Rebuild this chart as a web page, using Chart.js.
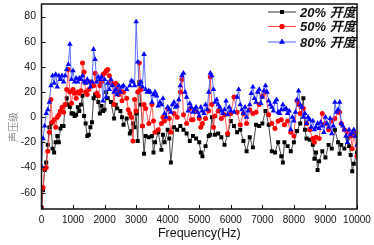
<!DOCTYPE html>
<html>
<head>
<meta charset="utf-8">
<script src="https://cdn.jsdelivr.net/npm/chart.js@4.4.1/dist/chart.umd.min.js"></script>
<style>
  html, body { margin: 0; padding: 0; background: #fff; }
  #wrap { width: 374px; height: 245px; position: relative; }
</style>
</head>
<body>
<div id="wrap"><canvas id="spl"></canvas></div>
<script>
// ── data: [frequency Hz, level] ──
const open20 = [[0,-72],[50,-58],[100,-42],[150,-36],[200,-22],[250,-8],[300,-5],[350,-25],[400,-28],[450,-20],
  [500,-15],[550,-20],[600,-9],[650,-7],[700,-7],[750,10],[800,15],[850,10],[900,8],[950,3],[1000,3],[1050,1],
  [1100,2],[1150,8],[1200,5],[1250,10],[1300,17],[1350,1],[1400,-5],[1450,-15],[1500,-14],[1550,-8],[1600,-4],
  [1650,15],[1700,18],[1750,17],[1800,12],[1850,3],[1900,9],[1950,5],[2000,6],[2050,20],[2100,15],[2200,12],
  [2300,-1],[2350,10],[2400,7],[2500,5],[2550,0],[2600,-6],[2700,-1],[2800,-13],[2850,-11],[2900,-5],[2950,-8],
  [3000,3],[3050,-19],[3100,28],[3150,10],[3200,-7],[3250,-29],[3300,-15],[3400,-16],[3500,-15],[3550,-28],
  [3600,-20],[3700,-12],[3800,-26],[3850,-14],[3900,-20],[4000,-10],[4050,-17],[4100,-36],[4200,-8],[4300,-10],
  [4400,-7],[4500,-10],[4600,-13],[4700,-19],[4800,-15],[4900,-17],[5000,-20],[5050,-28],[5100,-31],[5200,-23],
  [5300,-15],[5350,-14],[5400,0],[5500,-14],[5600,-13],[5700,-16],[5800,-22],[5900,-14],[6000,-3],[6100,-7],
  [6200,-12],[6300,-10],[6400,-19],[6500,-27],[6600,-16],[6700,-24],[6800,-6],[6900,-7],[7000,-5],[7100,5],
  [7200,-6],[7300,-27],[7400,-28],[7500,-20],[7600,-31],[7650,-36],[7700,-20],[7800,-23],[7900,-27],[8000,-20],
  [8100,-11],[8200,-5],[8300,15],[8350,-10],[8400,-17],[8500,-18],[8600,-22],[8650,-33],[8700,-28],[8750,-42],
  [8800,-35],[8900,-27],[9000,-32],[9100,-22],[9200,-25],[9300,-10],[9400,-20],[9450,-29],[9500,-22],[9600,-25],
  [9700,-17],[9750,-23],[9800,-30],[9850,-43],[9900,-37],[10000,-28]];

const open50 = [[0,-72],[50,-56],[100,-41],[150,-40],[200,-27],[250,-12],[300,14],[350,-4],[400,-2],[450,-8],
  [500,0],[550,2],[600,5],[650,8],[700,4],[750,10],[800,22],[850,38],[900,20],[950,11],[1000,22],[1050,19],
  [1100,15],[1150,20],[1200,19],[1250,21],[1300,43],[1350,36],[1400,20],[1450,18],[1500,22],[1550,28],[1600,27],
  [1650,25],[1700,35],[1750,19],[1800,17],[1850,25],[1900,28],[1950,34],[2000,35],[2050,37],[2100,38],[2150,33],
  [2200,28],[2250,26],[2300,10],[2350,27],[2400,22],[2450,18],[2500,21],[2550,13],[2600,20],[2700,15],[2750,6],
  [2800,3],[2850,0],[2900,-19],[2950,14],[3000,5],[3050,20],[3100,43],[3150,22],[3200,-7],[3250,10],[3300,7],
  [3400,-5],[3500,10],[3550,-3],[3600,-12],[3700,-10],[3800,-5],[3850,0],[3900,-3],[4000,7],[4050,-1],[4100,-12],
  [4200,3],[4300,0],[4400,20],[4450,30],[4500,2],[4600,-5],[4700,7],[4750,-2],[4800,-2],[4900,5],[5000,-1],
  [5050,-8],[5100,-5],[5200,-1],[5300,5],[5350,32],[5400,10],[5450,-8],[5500,1],[5600,5],[5700,-1],[5800,2],
  [5900,-13],[6000,3],[6100,16],[6200,4],[6300,-6],[6400,3],[6500,-5],[6600,6],[6700,3],[6800,4],[6900,10],
  [7000,17],[7100,20],[7200,2],[7300,-5],[7400,-9],[7500,-3],[7600,-2],[7700,-6],[7800,-3],[7900,-12],[8000,-15],
  [8100,13],[8150,10],[8200,3],[8300,7],[8400,-5],[8500,-10],[8600,-17],[8650,-20],[8700,-16],[8800,-17],[8900,3],
  [9000,-5],[9100,-10],[9200,-3],[9300,-1],[9400,4],[9450,4],[9500,-5],[9600,-10],[9700,-12],[9800,-15],
  [9850,-25],[9900,-12],[10000,-31]];

const open80 = [[0,-39],[50,-17],[100,-7],[150,3],[200,6],[250,12],[300,25],[350,33],[400,27],[450,34],[500,24],
  [550,33],[600,30],[650,33],[700,28],[750,33],[800,38],[850,42],[900,58],[950,30],[1000,37],[1050,28],[1100,31],
  [1150,28],[1200,31],[1250,30],[1300,33],[1350,28],[1400,27],[1450,30],[1500,28],[1550,24],[1600,28],[1650,54],
  [1700,46],[1750,28],[1800,32],[1850,30],[1900,32],[1950,13],[2000,30],[2050,16],[2100,27],[2150,22],[2200,30],
  [2250,25],[2300,20],[2350,22],[2400,18],[2450,25],[2500,20],[2550,24],[2600,25],[2700,22],[2800,25],[2850,29],
  [2900,28],[2950,25],[3000,76],[3050,44],[3100,26],[3150,28],[3200,24],[3250,50],[3300,22],[3350,20],[3400,21],
  [3450,20],[3500,12],[3550,18],[3600,20],[3650,17],[3700,9],[3750,12],[3800,10],[3850,15],[3900,3],[3950,0],
  [4000,8],[4050,6],[4100,4],[4150,10],[4200,12],[4250,8],[4300,9],[4350,14],[4400,25],[4450,33],[4500,35],
  [4550,20],[4600,16],[4650,5],[4700,11],[4750,8],[4800,4],[4850,6],[4900,8],[4950,4],[5000,1],[5050,8],[5100,5],
  [5150,3],[5200,10],[5250,6],[5300,20],[5350,35],[5400,33],[5450,22],[5500,12],[5550,14],[5600,10],[5650,8],
  [5700,5],[5750,3],[5800,6],[5850,13],[5900,2],[5950,8],[6000,5],[6100,4],[6200,16],[6250,22],[6300,10],
  [6350,6],[6400,3],[6450,8],[6500,0],[6550,5],[6600,10],[6650,19],[6700,24],[6750,15],[6800,12],[6850,20],
  [6900,22],[6950,11],[7000,16],[7050,21],[7100,25],[7150,20],[7200,13],[7250,10],[7300,8],[7350,5],[7400,12],
  [7450,14],[7500,4],[7550,3],[7600,6],[7650,10],[7700,6],[7750,7],[7800,3],[7850,5],[7900,-10],[7950,0],
  [8000,-3],[8050,4],[8100,14],[8150,21],[8200,10],[8250,8],[8300,0],[8350,3],[8400,-5],[8450,0],[8500,-2],
  [8550,-8],[8600,-3],[8650,-10],[8700,-8],[8750,-5],[8800,-9],[8850,-4],[8900,-7],[8950,-12],[9000,0],
  [9050,-5],[9100,-8],[9150,-1],[9200,-13],[9250,-7],[9300,12],[9350,4],[9400,6],[9450,12],[9500,-5],[9550,-7],
  [9600,-10],[9650,-15],[9700,-20],[9750,-10],[9800,-14],[9850,-12],[9900,-10],[9950,-15],[10000,-22]];

const seriesNames = ['20% 开度', '50% 开度', '80% 开度'];
const yTicks = [-60, -40, -20, 0, 20, 40, 60, 80];
const xTicks = [0, 1000, 2000, 3000, 4000, 5000, 6000, 7000, 8000, 9000, 10000];

const toXY = arr => arr.map(p => ({ x: p[0], y: p[1] }));
const SANS = 'Liberation Sans, Arial, sans-serif';

// box around plot, inward ticks, rotated y title
const framePlugin = {
  id: 'frame',
  afterDatasetsDraw(chart) {
    const { ctx, chartArea: a, scales } = chart;
    ctx.save();
    ctx.strokeStyle = '#111';
    ctx.lineWidth = 1;
    ctx.beginPath();
    xTicks.forEach(v => {
      const px = Math.round(scales.x.getPixelForValue(v)) + 0.5;
      ctx.moveTo(px, a.bottom); ctx.lineTo(px, a.bottom - 4);
    });
    yTicks.forEach(v => {
      const py = Math.round(scales.y.getPixelForValue(v)) + 0.5;
      ctx.moveTo(a.left, py); ctx.lineTo(a.left + 4, py);
    });
    ctx.stroke();
    ctx.lineWidth = 1.5;
    ctx.strokeRect(a.left, a.top, a.right - a.left, a.bottom - a.top);

    ctx.translate(13, 127);
    ctx.rotate(-Math.PI / 2);
    ctx.fillStyle = '#8a8a8a';
    ctx.font = '10px "Noto Sans CJK SC", sans-serif';
    ctx.textAlign = 'center';
    ctx.textBaseline = 'middle';
    ctx.fillText('声压级', 0, 0);
    ctx.restore();
  }
};

// legend drawn inside the plot, top right
const legendPlugin = {
  id: 'inLegend',
  afterDraw(chart) {
    const { ctx } = chart;
    const rows = [12, 26.5, 42];
    ctx.save();
    // datasets are stored blue, red, black (so blue draws on top)
    [2, 1, 0].forEach((di, r) => {
      const ds = chart.data.datasets[di];
      const y = rows[r];
      ctx.strokeStyle = ds.borderColor;
      ctx.lineWidth = 1;
      ctx.beginPath(); ctx.moveTo(268, y); ctx.lineTo(296, y); ctx.stroke();
      ctx.fillStyle = ds.pointBackgroundColor;
      Chart.helpers.drawPoint(ctx, { pointStyle: ds.pointStyle, radius: ds.pointRadius, rotation: 0, borderWidth: 0 }, 282, y);
      ctx.fill();
      ctx.fillStyle = '#111';
      ctx.font = 'italic bold 13px "Liberation Sans", "Noto Sans CJK SC", sans-serif';
      ctx.textBaseline = 'middle';
      ctx.fillText(ds.label, 300, y + 1);
    });
    ctx.restore();
  }
};

new Chart(document.getElementById('spl'), {
  type: 'line',
  data: {
    datasets: [{
      label: seriesNames[2],
      data: toXY(open80),
      borderColor: '#4d5dff',
      pointBackgroundColor: '#0000ff',
      pointBorderWidth: 0,
      pointStyle: 'triangle',
      pointRadius: 3.2,
      borderWidth: 0.9,
    }, {
      label: seriesNames[1],
      data: toXY(open50),
      borderColor: '#ff4848',
      pointBackgroundColor: '#ff0000',
      pointBorderWidth: 0,
      pointStyle: 'circle',
      pointRadius: 2.5,
      borderWidth: 0.9,
    }, {
      label: seriesNames[0],
      data: toXY(open20),
      borderColor: '#333',
      pointBackgroundColor: '#000',
      pointBorderWidth: 0,
      pointStyle: 'rect',
      pointRadius: 2.8,
      borderWidth: 0.9,
    }]
  },
  options: {
    responsive: true, maintainAspectRatio: false,
    animation: false,
    layout: { padding: { top: 1, right: 17, left: 0, bottom: 0 } },
    plugins: { legend: { display: false }, tooltip: { enabled: false } },
    scales: {
      x: {
        type: 'linear', min: 0, max: 10000,
        afterBuildTicks: s => { s.ticks = xTicks.map(v => ({ value: v })); },
        afterFit: s => { s.height = 36; s.paddingLeft = 0; s.paddingRight = 0; },
        grid: { display: false, drawTicks: false },
        border: { display: false },
        ticks: { font: { family: SANS, size: 10 }, color: '#111', padding: 5, maxRotation: 0, autoSkip: false,
          callback: v => String(v) },
        title: { display: true, text: 'Frequency(Hz)', color: '#111', padding: { top: 0, bottom: 4 },
          font: { family: SANS, size: 12.5 } }
      },
      y: {
        min: -73, max: 90,
        afterBuildTicks: s => { s.ticks = yTicks.map(v => ({ value: v })); },
        afterFit: s => { s.width = 41.5; s.paddingTop = 0; s.paddingBottom = 0; },
        grid: { display: false, drawTicks: false },
        border: { display: false },
        ticks: { font: { family: SANS, size: 10.5 }, color: '#111', padding: 5.5, callback: v => String(v) }
      }
    }
  },
  plugins: [framePlugin, legendPlugin]
});
</script>
</body>
</html>
